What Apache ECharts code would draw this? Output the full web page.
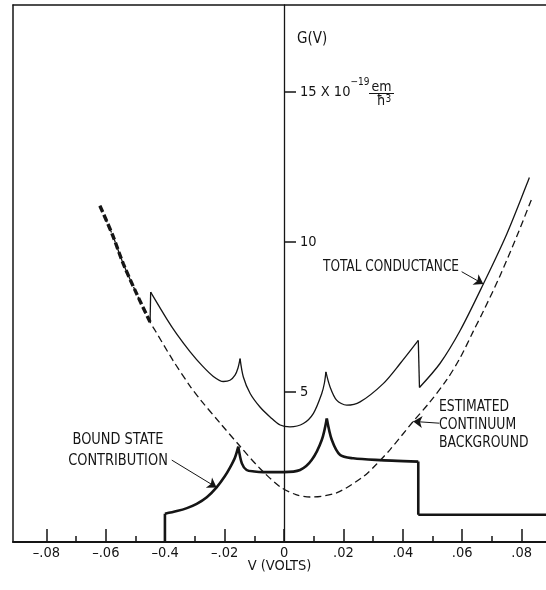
<!DOCTYPE html>
<html><head><meta charset="utf-8">
<script src="https://cdn.jsdelivr.net/npm/echarts@6/dist/echarts.min.js"></script>
<style>html,body{margin:0;padding:0;background:#fff}#c{width:546px;height:590px}</style>
</head><body><div id="c"></div>
<script>
// ---- axis ranges / ticks ----
const X_MIN = -0.09125, X_MAX = 0.0882, Y_MIN = 0, Y_MAX = 17.9;
const xMajorTicks = [-0.08, -0.06, -0.04, -0.02, 0, 0.02, 0.04, 0.06, 0.08];
const xTickLabels = ['\u2013.08', '\u2013.06', '\u20130.4', '\u2013.02', '0', '.02', '.04', '.06', '.08'];
const xMinorTicks = [-0.07, -0.05, -0.03, -0.01, 0.01, 0.03, 0.05, 0.07];
const yTicks = [5, 10, 15];
const yTickLabels = ['5', '10', '15 X 10'];
const yExponent = '\u221219';

// ---- series values (V in volts, G in 10^-19 em/h^3) ----
const totalV = [-0.0451, -0.0449, -0.0395, -0.0361, -0.0316, -0.0275, -0.0238, -0.0204, -0.0182, -0.0165, -0.0155, -0.0148,
  -0.0137, -0.0114, -0.0081, -0.0047, -0.0013, 0.0020, 0.0065, 0.0099, 0.0127, 0.0136, 0.0141,
  0.0155, 0.0177, 0.0211, 0.0256, 0.0334, 0.0391, 0.0452, 0.0456, 0.0525, 0.0593, 0.0671, 0.0750, 0.0826];
const totalG = [7.33, 8.33, 7.44, 6.93, 6.34, 5.87, 5.52, 5.35, 5.39, 5.56, 5.80, 6.11,
  5.50, 4.95, 4.50, 4.17, 3.90, 3.84, 3.95, 4.29, 4.95, 5.30, 5.67,
  5.17, 4.73, 4.56, 4.67, 5.28, 5.95, 6.72, 5.15, 5.95, 7.05, 8.60, 10.27, 12.15];
const totalCusps = [1, 11, 22, 29, 30];   // indices where the curve has a corner or jump

const bgV = [-0.0620, -0.0578, -0.0541, -0.0496, -0.0451, -0.0434, -0.0373, -0.0316, -0.0283, -0.0215, -0.0148, -0.0081,
  -0.0013, 0.0040, 0.0088, 0.0177, 0.0267, 0.0312, 0.0357, 0.0435, 0.0489, 0.0548, 0.0593, 0.0637, 0.0671, 0.0727, 0.0784, 0.0834];
const bgG = [11.21, 10.25, 9.27, 8.27, 7.33, 7.05, 6.04, 5.19, 4.76, 3.96, 3.19, 2.45,
  1.84, 1.58, 1.50, 1.64, 2.18, 2.60, 3.08, 4.02, 4.64, 5.41, 6.14, 7.02, 7.69, 8.87, 10.20, 11.44];
const overlapEndV = -0.0451; // total and background coincide up to here

const boundV = [-0.0401, -0.0401, -0.0361, -0.0327, -0.0294, -0.0260, -0.0227, -0.0200, -0.0182, -0.0165, -0.0154, -0.0142, -0.0126, -0.0100,
  -0.0070, -0.0002, 0.0054, 0.0093, 0.0127, 0.0144, 0.0161, 0.0189, 0.0233, 0.0323, 0.0452, 0.0452, 0.0882];
const boundG = [0, 0.94, 1.03, 1.13, 1.27, 1.49, 1.82, 2.18, 2.48, 2.82, 3.18, 2.62, 2.40, 2.35,
  2.33, 2.33, 2.40, 2.73, 3.40, 4.12, 3.40, 2.90, 2.79, 2.73, 2.68, 0.91, 0.91];
const boundCusps = [1, 10, 19, 24, 25];

// arrow annotations: [fromV, fromG, toV, toG]
const arrowTotal = [0.0598, 9.01, 0.0671, 8.60];
const arrowBg = [0.0523, 3.96, 0.0435, 4.02];
const arrowBound = [-0.0378, 2.73, -0.0227, 1.82];

const INK = '#151515';
const FONT = "'DejaVu Sans Condensed','DejaVu Sans',sans-serif";

const zip = (a, b) => a.map((v, i) => [v, b[i]]);
// split a point list into pieces at corner indices (corner point shared by both pieces)
function splitAt(pts, cuts) {
  const out = []; let start = 0;
  cuts.concat([pts.length - 1]).forEach(c => { if (c > start) out.push(pts.slice(start, c + 1)); start = c; });
  return out;
}
const bgData = zip(bgV, bgG);
const overlapData = bgData.filter(p => p[0] <= overlapEndV + 1e-9);
const arrowLine = a => [{ coord: [a[0], a[1]], symbol: 'none' }, { coord: [a[2], a[3]], symbol: 'arrow' }];

const W = 546;
const G_LEFT = 13, G_TOP = 5, G_BOTTOM = 48;
const zeroPx = G_LEFT + (0 - X_MIN) / (X_MAX - X_MIN) * (W - G_LEFT);

const lineSeries = (name, data, style, extra) => Object.assign({
  name, type: 'line', xAxisIndex: 0, yAxisIndex: 0, data, showSymbol: false, smooth: 0.3,
  lineStyle: style, silent: true
}, extra || {});

const series = [
  lineSeries('Estimated continuum background', bgData, { color: INK, width: 1.3, type: [7, 4] }),
  lineSeries('Overlap', overlapData, { color: INK, width: 3.4, type: [7, 3] })
];
splitAt(zip(totalV, totalG), totalCusps).forEach(seg =>
  series.push(lineSeries('Total conductance', seg, { color: INK, width: 1.3 })));
splitAt(zip(boundV, boundG), boundCusps).forEach(seg =>
  series.push(lineSeries('Bound state contribution', seg, { color: INK, width: 2.6 })));
series.push({ name: 'arrows', type: 'line', xAxisIndex: 0, yAxisIndex: 0, data: [], silent: true,
  markLine: { silent: true, symbolSize: 9, label: { show: false }, animation: false,
    lineStyle: { color: INK, width: 1, type: 'solid' },
    data: [arrowLine(arrowTotal), arrowLine(arrowBg), arrowLine(arrowBound)] } });

const chart = echarts.init(document.getElementById('c'), null, { renderer: 'canvas' });
const baseGrid = { left: G_LEFT, right: 0, top: G_TOP, bottom: G_BOTTOM, outerBoundsMode: 'none', containLabel: false };
chart.setOption({
  animation: false,
  backgroundColor: '#fff',
  grid: [Object.assign({}, baseGrid), Object.assign({}, baseGrid), Object.assign({}, baseGrid, { left: zeroPx })],
  xAxis: [
    { gridIndex: 0, type: 'value', min: X_MIN, max: X_MAX, position: 'bottom',
      axisLine: { show: true, onZero: false, lineStyle: { color: INK, width: 2 } },
      axisTick: { show: true, inside: true, length: 13, customValues: xMajorTicks, lineStyle: { color: INK, width: 1.5 } },
      axisLabel: { show: true, customValues: xMajorTicks, margin: 4, color: INK, fontSize: 14.5, fontFamily: FONT,
        formatter: v => { const i = xMajorTicks.findIndex(t => Math.abs(t - v) < 1e-9); return i >= 0 ? xTickLabels[i] : ''; } },
      splitLine: { show: false },
      name: 'V (VOLTS)', nameLocation: 'middle', nameGap: 17, nameMoveOverlap: false,
      nameTextStyle: { color: INK, fontSize: 14.5, fontFamily: FONT } },
    { gridIndex: 0, type: 'value', min: X_MIN, max: X_MAX, position: 'top',
      axisLine: { show: true, onZero: false, lineStyle: { color: INK, width: 1.5 } },
      axisTick: { show: false }, axisLabel: { show: false }, splitLine: { show: false } },
    { gridIndex: 1, type: 'value', min: X_MIN, max: X_MAX, position: 'bottom',
      axisLine: { show: false, onZero: false },
      axisTick: { show: true, inside: true, length: 6, customValues: xMinorTicks, lineStyle: { color: INK, width: 1.5 } },
      axisLabel: { show: false }, splitLine: { show: false } },
    { gridIndex: 2, type: 'value', min: 0, max: X_MAX, show: false }
  ],
  yAxis: [
    { gridIndex: 0, type: 'value', min: Y_MIN, max: Y_MAX, position: 'left',
      axisLine: { show: true, onZero: false, lineStyle: { color: INK, width: 1.5 } },
      axisTick: { show: false }, axisLabel: { show: false }, splitLine: { show: false } },
    { gridIndex: 1, type: 'value', min: Y_MIN, max: Y_MAX, show: false },
    { gridIndex: 2, type: 'value', min: Y_MIN, max: Y_MAX, position: 'left',
      axisLine: { show: true, onZero: false, lineStyle: { color: INK, width: 1.3 } },
      axisTick: { show: true, inside: true, length: 12, customValues: yTicks, lineStyle: { color: INK, width: 1.5 } },
      axisLabel: { show: true, inside: true, customValues: yTicks, margin: 16,
        formatter: v => { const i = yTicks.indexOf(v); if (i < 0) return ''; return i === 2 ? '{m|' + yTickLabels[i] + '}{sup|' + yExponent + '}' : '{m|' + yTickLabels[i] + '}'; },
        rich: {
          m: { color: INK, fontSize: 14.5, fontFamily: FONT, lineHeight: 30 },
          sup: { color: INK, fontSize: 10, fontFamily: FONT, lineHeight: 12, verticalAlign: 'top' }
        } },
      splitLine: { show: false } }
  ],
  series,
  graphic: [
    { type: 'text', x: 297, y: 39, style: { text: 'G(V)', fill: INK, font: '15px ' + FONT, align: 'left', verticalAlign: 'middle' } },
    { type: 'text', x: 381.5, y: 87, style: { text: 'em', fill: INK, font: '14px ' + FONT, align: 'center', verticalAlign: 'middle' } },
    { type: 'line', shape: { x1: 369, y1: 93.5, x2: 394, y2: 93.5 }, style: { stroke: INK, lineWidth: 1 } },
    { type: 'text', x: 384, y: 101, style: { text: '\u0127{s|3}', fill: INK, font: '14px ' + FONT, align: 'center', verticalAlign: 'middle',
        rich: { s: { fontSize: 10, fontFamily: FONT, fill: INK, verticalAlign: 'top', lineHeight: 10 } } } },
    { type: 'text', x: 323, y: 267, scaleX: 0.9, style: { text: 'TOTAL CONDUCTANCE', fill: INK, font: '15px ' + FONT, align: 'left', verticalAlign: 'middle' } },
    { type: 'text', x: 439, y: 398, scaleX: 0.92, style: { text: 'ESTIMATED\nCONTINUUM\nBACKGROUND', fill: INK, font: '15px ' + FONT, align: 'left', verticalAlign: 'top', lineHeight: 18 } },
    { type: 'text', x: 118, y: 429, scaleX: 0.96, style: { text: 'BOUND STATE\nCONTRIBUTION', fill: INK, font: '15px ' + FONT, align: 'center', verticalAlign: 'top', lineHeight: 21.5 } }
  ]
});
</script></body></html>
